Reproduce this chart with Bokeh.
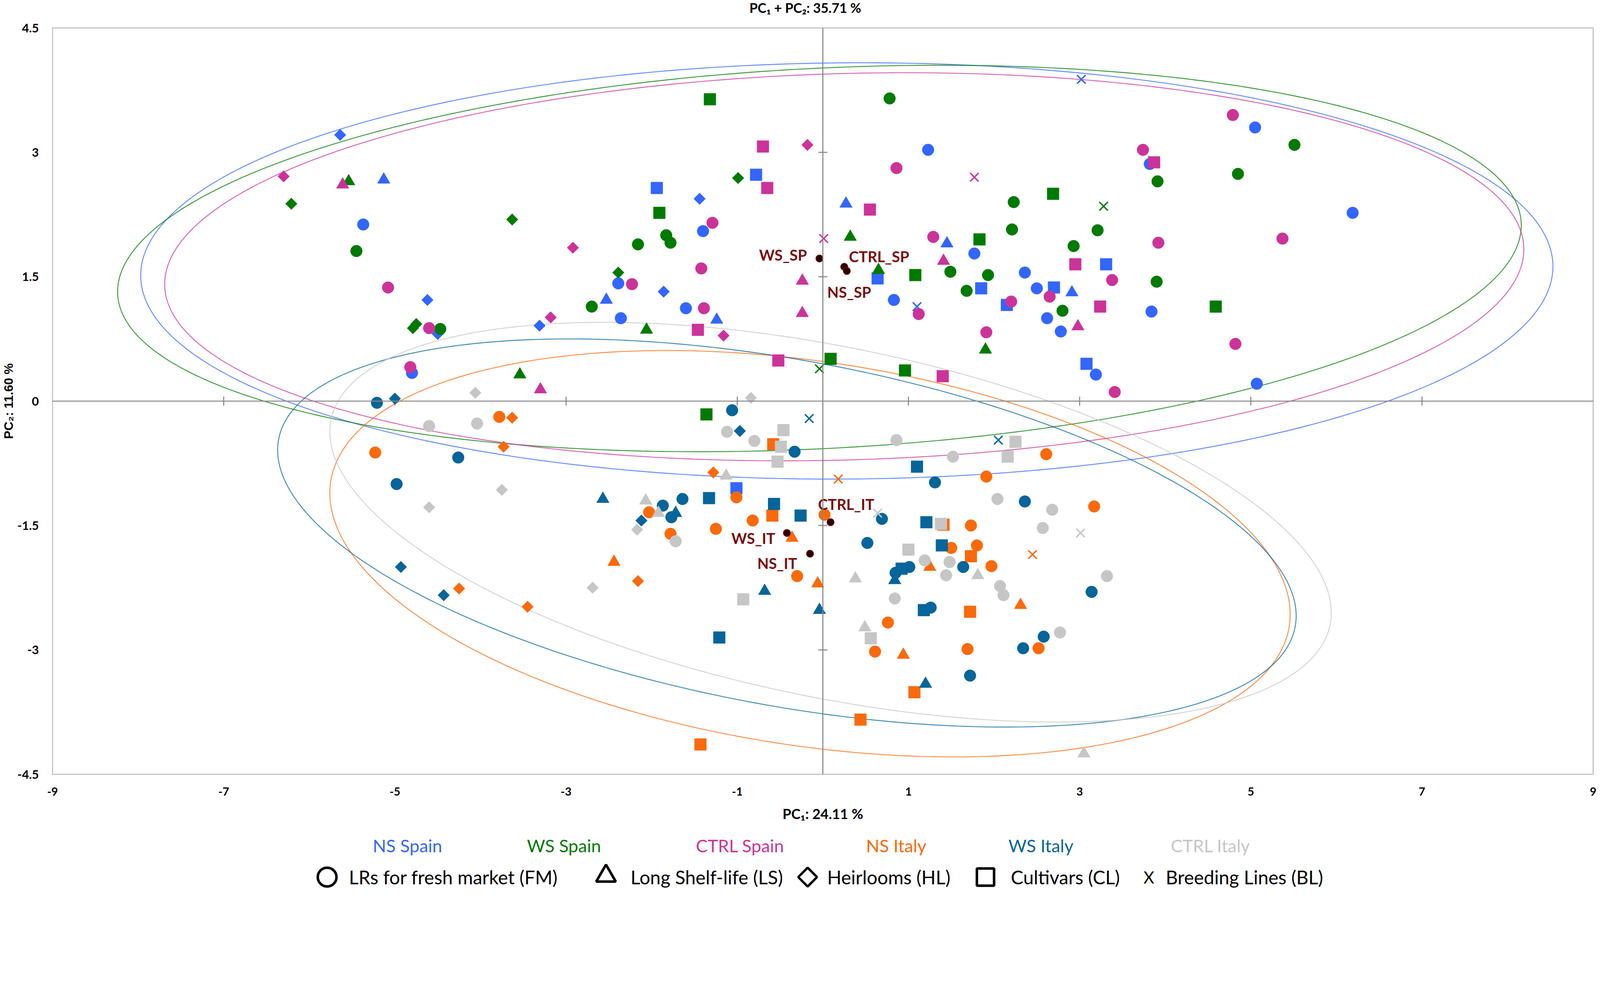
import numpy as np
from bokeh.plotting import figure
from bokeh.models import Range1d, FixedTicker, Span
from bokeh.layouts import column
from bokeh.embed import file_html
from bokeh.resources import INLINE
from bokeh.core.properties import value

# ---------------- data ----------------
chart_title = "PC\u2081 + PC\u2082: 35.71 %"
x_title = "PC\u2081: 24.11 %"
y_title = "PC\u2082: 11.60 %"
group_names = ["NS Spain", "WS  Spain", "CTRL Spain", "NS Italy", "WS Italy", "CTRL Italy"]
group_colors = ["#3366FF", "#007A00", "#CC3399", "#FA6A0A", "#06659A", "#C6C6C6"]
type_names = ["LRs for fresh market (FM)", "Long Shelf-life (LS)", "Heirlooms (HL)",
              "Cultivars (CL)", "Breeding Lines (BL)"]

ns_spain_fm = [(-5.37, 2.13), (-4.80, 0.34), (-1.40, 2.05), (-2.39, 1.42), (-1.60, 1.12), (-2.36, 1.00),
               (1.23, 3.03), (3.82, 2.86), (1.77, 1.78), (2.36, 1.55), (2.50, 1.36), (0.83, 1.22),
               (2.62, 1.00), (2.78, 0.84), (3.84, 1.08), (3.19, 0.32), (5.05, 3.30), (6.19, 2.27), (5.07, 0.21)]
ns_spain_ls = [(-5.13, 2.67), (-2.53, 1.22), (-1.24, 0.98), (0.27, 2.38), (1.45, 1.90), (2.91, 1.31)]
ns_spain_hl = [(-5.64, 3.21), (-4.62, 1.22), (-4.50, 0.81), (-1.44, 2.44), (-1.86, 1.32), (-3.31, 0.91)]
ns_spain_cl = [(-1.94, 2.57), (-0.78, 2.73), (0.64, 1.48), (3.31, 1.65), (1.85, 1.36), (2.70, 1.37),
               (2.15, 1.16), (3.08, 0.45), (-1.01, -1.05)]
ns_spain_bl = [(3.02, 3.88), (1.10, 1.14)]

ws_spain_fm = [(-5.45, 1.81), (-4.47, 0.87), (-1.83, 2.00), (-1.78, 1.91), (-2.16, 1.89), (-2.70, 1.14),
               (0.78, 3.65), (3.91, 2.65), (2.23, 2.40), (2.21, 2.07), (3.21, 2.06), (2.93, 1.87),
               (1.49, 1.56), (1.93, 1.52), (1.68, 1.33), (2.80, 1.09), (3.90, 1.44), (5.51, 3.09), (4.85, 2.74)]
ws_spain_ls = [(-5.54, 2.65), (-2.06, 0.86), (-3.54, 0.32), (0.32, 1.98), (0.65, 1.58), (1.90, 0.62)]
ws_spain_hl = [(-6.21, 2.38), (-4.79, 0.88), (-4.75, 0.93), (-3.63, 2.19), (-2.39, 1.55), (-0.99, 2.69)]
ws_spain_cl = [(-1.32, 3.64), (-1.91, 2.27), (2.69, 2.50), (1.83, 1.95), (1.08, 1.52), (0.09, 0.51),
               (0.96, 0.37), (4.59, 1.14), (-1.36, -0.16)]
ws_spain_bl = [(3.28, 2.35), (-0.04, 0.39)]

ctrl_spain_fm = [(-5.08, 1.37), (-4.60, 0.88), (-4.82, 0.41), (-1.29, 2.15), (-1.42, 1.60), (-2.23, 1.41),
                 (-1.39, 1.12), (0.86, 2.81), (3.74, 3.03), (1.29, 1.98), (3.38, 1.46), (2.65, 1.26),
                 (1.12, 1.05), (2.20, 1.20), (1.91, 0.83), (3.92, 1.91), (3.41, 0.11), (4.79, 3.45),
                 (5.37, 1.96), (4.82, 0.69)]
ctrl_spain_ls = [(-5.61, 2.61), (-3.30, 0.14), (1.41, 1.69), (-0.24, 1.45), (-0.24, 1.06), (2.98, 0.90)]
ctrl_spain_hl = [(-6.30, 2.71), (-2.92, 1.85), (-3.18, 1.01), (-1.16, 0.79), (-0.18, 3.09)]
ctrl_spain_cl = [(-0.70, 3.07), (-0.65, 2.57), (-1.46, 0.86), (-0.52, 0.49), (0.55, 2.31), (2.95, 1.65),
                 (3.24, 1.14), (3.87, 2.88), (1.40, 0.30)]
ctrl_spain_bl = [(1.77, 2.70), (0.01, 1.96)]

ns_italy_fm = [(-5.23, -0.62), (-3.78, -0.19), (-2.03, -1.34), (-1.78, -1.60), (-1.25, -1.54), (-1.01, -1.16),
               (-0.82, -1.44), (2.61, -0.64), (1.91, -0.91), (3.17, -1.27), (0.02, -1.37), (-0.30, -2.11),
               (1.73, -1.50), (1.50, -1.77), (1.80, -1.74), (1.97, -1.99), (0.76, -2.67), (0.61, -3.02),
               (1.69, -2.99), (2.52, -2.98)]
ns_italy_ls = [(-2.44, -1.94), (-0.36, -1.65), (-0.06, -2.20), (1.25, -2.00), (2.31, -2.46), (0.94, -3.06)]
ns_italy_hl = [(-3.63, -0.20), (-3.73, -0.55), (-4.25, -2.26), (-3.45, -2.48), (-2.16, -2.17), (-1.28, -0.86)]
ns_italy_cl = [(-0.58, -0.52), (-0.59, -1.38), (1.41, -1.49), (1.73, -1.87), (1.72, -2.54), (1.07, -3.51),
               (0.44, -3.84), (-1.43, -4.14)]
ns_italy_bl = [(0.18, -0.94), (2.45, -1.85)]

ws_italy_fm = [(-5.21, -0.02), (-4.98, -1.00), (-4.26, -0.68), (-1.87, -1.26), (-1.77, -1.40), (-1.64, -1.18),
               (-1.06, -0.11), (-0.33, -0.61), (1.31, -0.98), (2.36, -1.21), (3.14, -2.30), (0.69, -1.42),
               (0.52, -1.71), (1.64, -2.00), (0.85, -2.07), (1.01, -2.00), (1.26, -2.49), (2.58, -2.84),
               (2.34, -2.98), (1.72, -3.31)]
ws_italy_ls = [(-2.57, -1.18), (-1.72, -1.35), (-0.68, -2.29), (-0.04, -2.52), (0.84, -2.16), (1.20, -3.41)]
ws_italy_hl = [(-5.00, 0.03), (-4.93, -2.00), (-4.43, -2.34), (-2.12, -1.44), (-0.97, -0.36)]
ws_italy_cl = [(-1.33, -1.17), (-0.57, -1.24), (-1.21, -2.85), (-0.26, -1.38), (1.10, -0.79), (1.21, -1.46),
               (1.39, -1.74), (0.92, -2.02), (1.18, -2.52)]
ws_italy_bl = [(-0.16, -0.21), (2.05, -0.47)]

ctrl_italy_fm = [(-4.60, -0.30), (-4.04, -0.27), (-1.12, -0.37), (-0.80, -0.48), (-1.72, -1.69), (0.86, -0.47),
                 (1.52, -0.67), (2.04, -1.18), (2.68, -1.31), (2.57, -1.53), (3.32, -2.11), (1.19, -1.92),
                 (1.48, -1.94), (1.44, -2.10), (0.84, -2.38), (2.07, -2.23), (2.11, -2.34), (2.77, -2.79)]
ctrl_italy_ls = [(-2.07, -1.20), (-1.92, -1.35), (-1.13, -0.90), (0.38, -2.14), (1.81, -2.10), (0.49, -2.73),
                 (3.05, -4.25)]
ctrl_italy_hl = [(-4.06, 0.10), (-0.84, 0.04), (-3.75, -1.07), (-4.60, -1.28), (-2.69, -2.25), (-2.17, -1.55)]
ctrl_italy_cl = [(-0.46, -0.35), (-0.49, -0.55), (-0.53, -0.73), (2.25, -0.49), (2.16, -0.67), (-0.93, -2.39),
                 (1.00, -1.79), (1.38, -1.48), (0.56, -2.86)]
ctrl_italy_bl = [(3.01, -1.59), (0.64, -1.35)]

# group centroids
cent_names = ["WS_SP", "CTRL_SP", "NS_SP", "CTRL_IT", "WS_IT", "NS_IT"]
cent_x = [-0.04, 0.25, 0.28, 0.09, -0.42, -0.15]
cent_y = [1.72, 1.62, 1.57, -1.46, -1.59, -1.84]

# confidence ellipses (same order as group_names): centre, half extents, covariance term
ell_cx = [0.28, -0.04, 0.25, -0.15, -0.42, 0.09]
ell_cy = [1.57, 1.72, 1.62, -1.84, -1.59, -1.46]
ell_wx = [8.25, 8.20, 7.94, 5.61, 5.95, 5.85]
ell_wy = [2.51, 2.33, 2.34, 2.45, 2.34, 2.41]
ell_sxy = [0.45, 3.28, 1.67, -4.10, -5.95, -6.38]

x_ticks = [-9, -7, -5, -3, -1, 1, 3, 5, 7, 9]
x_tick_labels = ["-9", "-7", "-5", "-3", "-1", "1", "3", "5", "7", "9"]
y_ticks = [-4.5, -3, -1.5, 0, 1.5, 3, 4.5]
y_tick_labels = ["-4.5", "-3", "-1.5", "0", "1.5", "3", "4.5"]

series = [
    (ns_spain_fm, ns_spain_ls, ns_spain_hl, ns_spain_cl, ns_spain_bl),
    (ws_spain_fm, ws_spain_ls, ws_spain_hl, ws_spain_cl, ws_spain_bl),
    (ctrl_spain_fm, ctrl_spain_ls, ctrl_spain_hl, ctrl_spain_cl, ctrl_spain_bl),
    (ns_italy_fm, ns_italy_ls, ns_italy_hl, ns_italy_cl, ns_italy_bl),
    (ws_italy_fm, ws_italy_ls, ws_italy_hl, ws_italy_cl, ws_italy_bl),
    (ctrl_italy_fm, ctrl_italy_ls, ctrl_italy_hl, ctrl_italy_cl, ctrl_italy_bl),
]

# ---------------- layout ----------------
W = 4089
LEFT = 128
FRAME_W = 3950
RIGHT = W - LEFT - FRAME_W
HT = 44            # title strip
TOP = 27           # room above the frame for the top tick label
FRAME_H = 1910
H1 = TOP + FRAME_H + 130
H2 = 2272 - HT - H1
FONT = "Lato"
AXIS_GREY = "#878787"


def strip(height):
    f = figure(width=W, height=height, x_range=Range1d(0, FRAME_W), y_range=Range1d(0, height),
               output_backend="svg", toolbar_location=None, title=None,
               min_border_left=LEFT, min_border_right=RIGHT, min_border_top=0, min_border_bottom=0,
               x_axis_location=None, y_axis_location=None)
    f.grid.visible = False
    f.outline_line_color = None
    f.background_fill_color = "white"
    f.border_fill_color = "white"
    return f


# title strip
tf = strip(HT)
tf.text(x=[1930], y=[HT - 19], text=[chart_title], text_align="center", text_baseline="middle",
        text_font=value(FONT), text_font_style="bold", text_font_size="34px", text_color="black")

p = figure(width=W, height=H1, x_range=Range1d(-9, 9), y_range=Range1d(-4.5, 4.5),
           output_backend="svg", toolbar_location=None, title=None,
           min_border_left=LEFT, min_border_right=RIGHT,
           min_border_top=TOP, min_border_bottom=H1 - TOP - FRAME_H)
p.background_fill_color = "white"
p.border_fill_color = "white"
p.grid.visible = False
p.outline_line_color = "#C4C4C4"
p.outline_line_width = 3

for ax in (p.xaxis[0], p.yaxis[0]):
    ax.axis_line_color = None
    ax.major_tick_line_color = None
    ax.minor_tick_line_color = None
    ax.major_label_text_font = FONT
    ax.major_label_text_font_style = "bold"
    ax.major_label_text_color = "black"
    ax.axis_label_text_font_style = "bold"
    ax.axis_label_text_color = "black"

p.xaxis.ticker = FixedTicker(ticks=x_ticks)
p.xaxis.major_label_overrides = {t: s for t, s in zip(x_ticks, x_tick_labels)}
p.xaxis.major_label_text_font_size = "29px"
p.xaxis.major_label_standoff = 27
p.xaxis.axis_label = x_title
p.xaxis.axis_label_text_font = FONT
p.xaxis.axis_label_text_font_size = "36px"
p.xaxis.axis_label_standoff = 21

p.yaxis.ticker = FixedTicker(ticks=y_ticks)
p.yaxis.major_label_overrides = {t: s for t, s in zip(y_ticks, y_tick_labels)}
p.yaxis.major_label_text_font_size = "31px"
p.yaxis.major_label_standoff = 29
p.yaxis.axis_label = y_title
p.yaxis.axis_label_text_font = "Liberation Sans"
p.yaxis.axis_label_text_font_size = "32px"
p.yaxis.axis_label_standoff = 2

# central axes with crossing tick marks
p.add_layout(Span(location=0, dimension="height", line_color=AXIS_GREY, line_width=2.7))
p.add_layout(Span(location=0, dimension="width", line_color=AXIS_GREY, line_width=2.7))
hx = [t for t in x_ticks if abs(t) < 9]
vy = [t for t in y_ticks if 0 < abs(t) < 4.5]
p.scatter(x=hx, y=[0] * len(hx), marker="dash", angle=np.pi / 2, size=23,
          line_color=AXIS_GREY, line_width=2.7)
p.scatter(x=[0] * len(vy), y=vy, marker="dash", size=23, line_color=AXIS_GREY, line_width=2.7)

# ellipses
t = np.linspace(0, 2 * np.pi, 400)
for cx, cy, wx, wy, sxy, col in zip(ell_cx, ell_cy, ell_wx, ell_wy, ell_sxy, group_colors):
    S = np.array([[wx ** 2, sxy], [sxy, wy ** 2]])
    L = np.linalg.cholesky(S)
    pts = L @ np.vstack([np.cos(t), np.sin(t)])
    p.line(cx + pts[0], cy + pts[1], line_color=col, line_width=2.4, line_alpha=0.75)

# points
for (fm, ls, hl, cl, bl), col in zip(series, group_colors):
    p.scatter([a for a, b in fm], [b for a, b in fm], marker="circle", size=30,
              fill_color=col, line_color=col, line_width=1)
    p.scatter([a for a, b in ls], [b for a, b in ls], marker="triangle", size=32,
              fill_color=col, line_color=col, line_width=1)
    p.scatter([a for a, b in hl], [b for a, b in hl], marker="square", angle=np.pi / 4, size=21,
              fill_color=col, line_color=col, line_width=1)
    p.scatter([a for a, b in cl], [b for a, b in cl], marker="square", size=30,
              fill_color=col, line_color=col, line_width=1)
    p.scatter([a for a, b in bl], [b for a, b in bl], marker="x", size=31,
              line_color=col, line_width=3.6)

# centroids
p.scatter(cent_x, cent_y, marker="circle", size=18, fill_color="#2B0000", line_color="#6A0A0A",
          line_width=2)
lab_dx = [-32, 12, -50, -32, -30, -33]
lab_dy = [-9, -27, 54, -46, 13, 24]
lab_align = ["right", "left", "left", "left", "right", "right"]
for nm, cx, cy, dx, dy, al in zip(cent_names, cent_x, cent_y, lab_dx, lab_dy, lab_align):
    p.text(x=[cx], y=[cy], text=[nm], x_offset=dx, y_offset=dy, text_align=al,
           text_baseline="middle", text_font=value(FONT), text_font_style="bold",
           text_font_size="38px", text_color="#7A0A0A")

# ---------------- legend strip ----------------
q = strip(H2)
row1_y = H2 - 52
row1_x = [910, 1317, 1763, 2163, 2534, 2969]
q.text(x=row1_x, y=[row1_y] * 6, text=group_names, text_color=group_colors, text_align="center",
       text_baseline="middle", text_font=value(FONT), text_font_size="45px")

row2_y = H2 - 133
q.scatter([704], [row2_y], marker="circle", size=48, fill_color=None, line_color="black", line_width=6.5)
q.scatter([1419], [row2_y + 3], marker="triangle", size=50, fill_color=None, line_color="black",
          line_width=6.5)
q.scatter([1936], [row2_y], marker="square", angle=np.pi / 4, size=34, fill_color=None,
          line_color="black", line_width=6)
q.scatter([2392], [row2_y], marker="square", size=44, fill_color=None, line_color="black", line_width=6.5)
q.text(x=[2811], y=[row2_y], text=["X"], text_align="center", text_baseline="middle",
       text_font=value(FONT), text_font_size="42px", text_color="black")
txt_x = [760, 1482, 1986, 2457, 2854]
q.text(x=txt_x, y=[row2_y] * 5, text=type_names, text_align="left", text_baseline="middle",
       text_font=value(FONT), text_font_size="48px", text_color="black")

layout = column(tf, p, q)
open("out.html", "w").write(file_html(layout, INLINE))
